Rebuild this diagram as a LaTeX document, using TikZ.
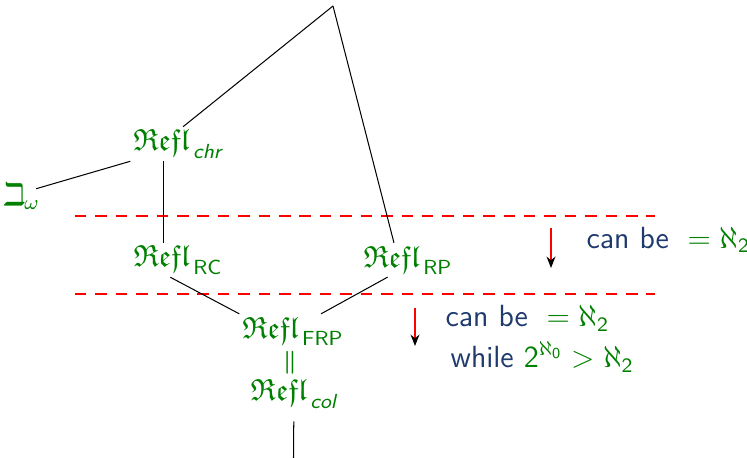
\documentclass[tikz,border=0pt]{standalone}
\usepackage{amsmath,amssymb}
\usetikzlibrary{arrows.meta}
\definecolor{lgreen}{RGB}{0,128,0}
\definecolor{sblue}{RGB}{30,58,110}
\newcommand{\Refl}{\mathfrak{Refl}}
\newcommand{\sub}[1]{\text{#1}}

\begin{document}
\begin{tikzpicture}[x=0.392pt,y=-0.392pt,>=Stealth,every node/.style={font=\sffamily\fontsize{12}{15}\selectfont},
  card/.style={text=lgreen,inner sep=1pt},
  cut/.style={red,dash pattern=on 4.5pt off 3.5pt},
  note/.style={text=sblue,align=left,anchor=west,inner sep=0pt},
  drop/.style={red,-{Stealth[black,length=4.5pt,width=3.5pt]}}]
\useasboundingbox (0,0) rectangle (747,458);
\coordinate (top) at (333,6);
\node[card] (chr) at (178,144) {$\Refl_{\,\sub{\itshape chr}}$};
\node[card] (beth) at (22,197) {$\beth_\omega$};
\node[card] (rc) at (178,260) {$\Refl_{\,\sub{RC}}$};
\node[card] (rp) at (408,260) {$\Refl_{\,\sub{RP}}$};
\node[card] (frp) at (293,331) {$\Refl_{\,\sub{FRP}}$};
\node[card,font=\fontsize{9.5}{10}\selectfont] (eq) at (290,363) {$\boldsymbol{\|}$};
\node[card] (col) at (294,394) {$\Refl_{\,\sub{\itshape col}}$};
\coordinate (bot) at (293.5,458);
% cardinal arithmetic limits
\draw[cut] (75,216) -- (655,216);
\draw[cut] (75,294) -- (655,294);
\coordinate (a1) at (551,228);\coordinate (b1) at (551,268);
\coordinate (a2) at (415,308);\coordinate (b2) at (415,346);
\draw[drop] (a1) -- (b1);\draw[drop] (a2) -- (b2);
\node[note] (n1) at (586,240) {can be \textcolor{lgreen}{$\;=\aleph_{\sub{2}}$}};
\node[note] (n2) at (445,339) {can be \textcolor{lgreen}{$\;=\aleph_{\sub{2}}$}\\[1pt]
  \,while \textcolor{lgreen}{$\sub{2}^{\aleph_{\sub{0}}}>\aleph_{\sub{2}}$}};
% edges
\draw (top) -- ([xshift=2pt]chr.north);
\draw (top) -- ([xshift=-5.5pt]rp.north);
\draw ([xshift=-2.7pt,yshift=-3pt]beth.north east) -- (chr.south west);
\draw ([xshift=-5.5pt]chr.south) -- ([xshift=-5.5pt]rc.north);
\draw ([xshift=-3pt]rc.south) -- (frp.north west);
\draw ([xshift=-8pt]rp.south) -- ([xshift=11pt]frp.north);
\draw[shorten <=4pt] (col) -- (bot);
\end{tikzpicture}
\end{document}
